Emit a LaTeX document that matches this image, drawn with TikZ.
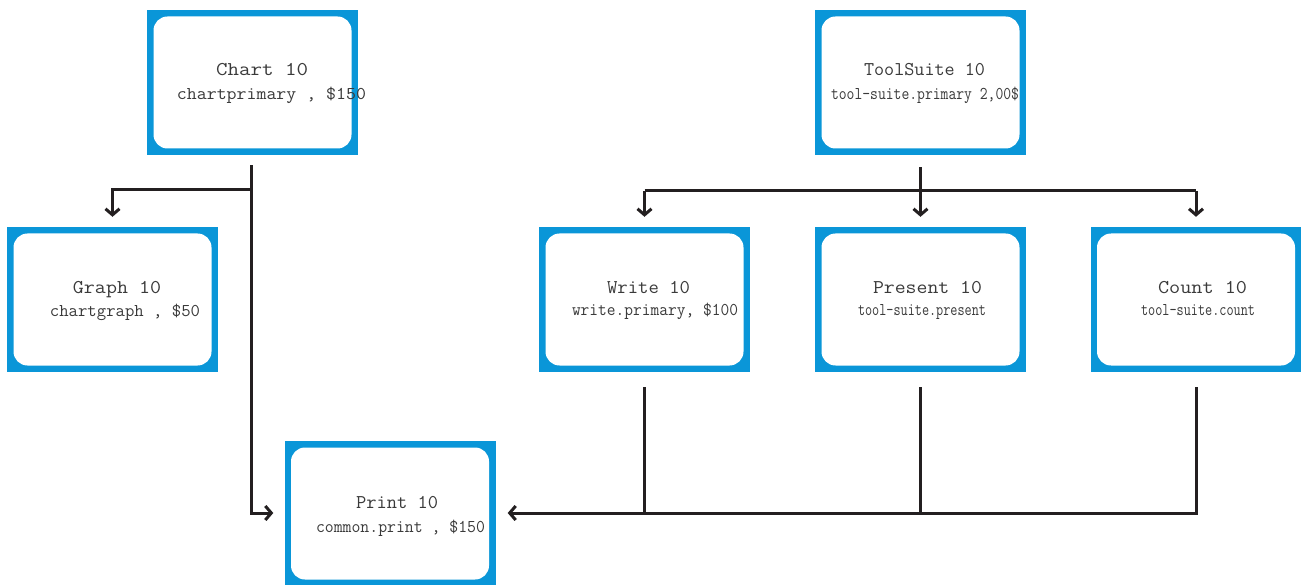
\documentclass[tikz,border=0pt]{standalone}
\usepackage{fontspec}
\usetikzlibrary{arrows.meta,calc}
\definecolor{boxblue}{HTML}{0A96D8}
\definecolor{linec}{HTML}{231F20}
\definecolor{txtc}{HTML}{3A3A3A}
\newcommand\fitw[2]{\resizebox{#1pt}{\height}{#2}}
\tikzset{
  box/.style={rectangle, fill=boxblue, minimum width=211pt, minimum height=145pt, inner sep=0pt,
    path picture={\fill[white,rounded corners=14pt]
      ([shift={(6.5pt,-6.5pt)}]path picture bounding box.north west) rectangle
      ([shift={(-6.5pt,6.5pt)}]path picture bounding box.south east);}},
  ttl/.style={anchor=base, inner sep=0pt, text=txtc, font=\ttfamily\fontsize{19.5}{21}\selectfont},
  sub/.style={anchor=base, inner sep=0pt, text=txtc, font=\ttfamily\fontsize{18}{20}\selectfont},
  conn/.style={draw=linec, line width=3pt},
  arr/.style={conn, -{Straight Barb[length=6pt,width=14pt]}}
}
\begin{document}
\begin{tikzpicture}[x=1pt,y=-1pt]
\useasboundingbox (0,0) rectangle (1301,585);
% boxes
\node[box] (chart) at (252.5,82.5) {};
\node[box] (suite) at (920.5,82.5) {};
\node[box] (graph) at (112.5,299.5) {};
\node[box] (write) at (644.5,299.5) {};
\node[box] (present) at (920.5,299.5) {};
\node[box] (count) at (1196,299.5) {};
\node[box] (print) at (390,513.5) {};
% texts
\node[ttl] (chartt) at (262,76) {\fitw{92}{Chart 10}};
\node[sub] (charts) at (271.5,100) {\fitw{189}{chartprimary , \$150}};
\node[ttl] (suitet) at (924.5,76) {\fitw{121}{ToolSuite 10}};
\node[sub] (suites) at (925,100) {\fitw{188}{tool-suite.primary 2,00\$}};
\node[ttl] (grapht) at (117,294) {\fitw{88}{Graph 10}};
\node[sub] (graphs) at (125,317) {\fitw{150}{chartgraph , \$50}};
\node[ttl] (writet) at (648.5,294) {\fitw{83}{Write 10}};
\node[sub] (writes) at (655,316) {\fitw{166}{write.primary, \$100}};
\node[ttl] (presentt) at (927.5,294) {\fitw{109}{Present 10}};
\node[sub] (presents) at (922,316) {\fitw{128}{tool-suite.present}};
\node[ttl] (countt) at (1202.5,294) {\fitw{89}{Count 10}};
\node[sub] (counts) at (1198,316) {\fitw{114}{tool-suite.count}};
\node[ttl] (printt) at (397,508) {\fitw{82}{Print 10}};
\node[sub] (prints) at (400.5,532) {\fitw{169}{common.print , \$150}};
% connector helpers
\coordinate (cx) at (251,190);
\coordinate (sx) at (920,191);
\coordinate (by) at (920,513);
% chart connectors
\draw[arr] ([yshift=-10pt]cx |- chart.south) -- (cx |- by) -- ([xshift=-11pt]print.west |- by);
\draw[arr] (cx) -- (graph.north |- cx) -- ([yshift=10pt]graph.north);
% suite connectors
\draw[arr] ([yshift=-12pt]suite.south) -- ([yshift=10pt]present.north);
\draw[conn] (write.north |- sx) -- (count.north |- sx);
\draw[arr] (write.north |- sx) -- ([yshift=10pt]write.north);
\draw[arr] (count.north |- sx) -- ([yshift=10pt]count.north);
% bottom connectors
\draw[conn] ([yshift=-15pt]write.south) -- (write.south |- by);
\draw[conn] ([yshift=-15pt]present.south) -- (present.south |- by);
\draw[arr] ([yshift=-15pt]count.south) -- (count.south |- by) -- ([xshift=12pt]print.east |- by);
\end{tikzpicture}
\end{document}
